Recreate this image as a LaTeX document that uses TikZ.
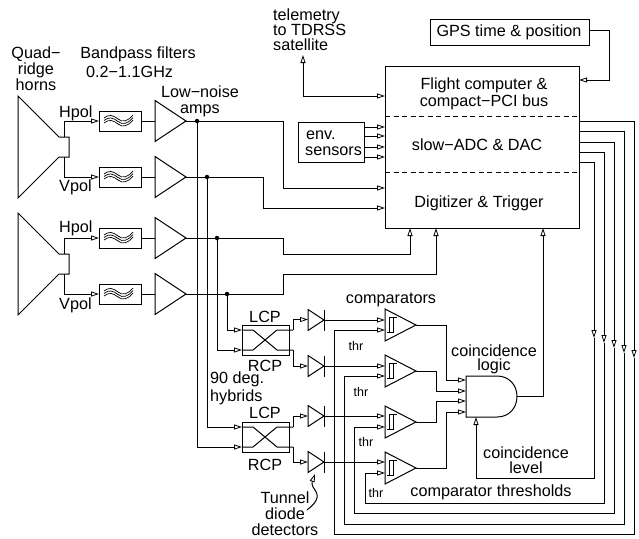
\documentclass[tikz,border=0pt]{standalone}
\usepackage{fontspec}
\setmainfont{Liberation Sans}
\usetikzlibrary{arrows.meta}
\tikzset{
  x=1pt,y=-1pt,
  wire/.style={line width=1pt,line join=miter},
  arr/.style={wire,-{Triangle[length=8pt,width=5pt,fill=white,line width=0.8pt]}},
  blockbox/.style={draw,line width=1pt,fill=white,inner sep=0pt,outer sep=0pt,anchor=north west},
  lbl/.style={font=\fontsize{16.2}{16}\selectfont,align=center,inner sep=0pt},
  thrlbl/.style={font=\fontsize{12.5}{13}\selectfont,inner sep=0pt},
  dot/.style={circle,fill=black,inner sep=0pt,minimum size=4.5pt},
  thin wire/.style={line width=0.7pt},
}
\newcommand{\filterbox}[2]{%
  \node[blockbox,minimum width=42pt,minimum height=20pt] (#1) at (99,#2-10) {};
  \foreach \d in {-1,1.5,4}{
    \draw[thin wire] (104,#2+\d-2) .. controls (109,#2+\d-6) and (113,#2+\d-5) .. (118,#2+\d-1) .. controls (123,#2+\d+3) and (128,#2+\d+1) .. (133,#2+\d-5);
  }
}
\newcommand{\ampl}[2]{%
  \coordinate (#1) at (186,#2);
  \draw[wire] (155,#2-20.5) -- (186,#2) -- (155,#2+20.5) -- cycle;
}
\newcommand{\horn}[2]{%
  \draw[wire] (18,#2) -- (59,#2+41) -- (69,#2+41) -- (69,#2+61) -- (59,#2+61) -- (18,#2+102) -- cycle;
}
\newcommand{\detector}[2]{%
  \coordinate (#1) at (324,#2);
  \draw[wire] (308,#2-10.5) -- (324,#2) -- (308,#2+10.5) -- cycle;
  \draw[wire] (324,#2-10.5) -- (324,#2+10.5);
}
\newcommand{\compar}[2]{%
  \coordinate (#1) at (416,#2);
  \draw[wire] (385,#2-16) -- (416,#2) -- (385,#2+16) -- cycle;
  \draw[thin wire] (387,#2+7) -- (393,#2+7) -- (393,#2-8) -- (397,#2-8);
  \draw[thin wire] (393,#2-8) -- (389,#2-8) -- (389,#2+7);
}
\begin{document}
\begin{tikzpicture}
\useasboundingbox (0,0) rectangle (639,538);
% main blocks
\node[blockbox,minimum width=194pt,minimum height=162pt] (main) at (385,66) {};
\draw[wire,dash pattern=on 5pt off 3.5pt] (main.west |- 0,116) -- (main.east |- 0,116);
\draw[wire,dash pattern=on 5pt off 3.5pt] (main.west |- 0,172) -- (main.east |- 0,172);
\node[blockbox,minimum width=159pt,minimum height=26pt] (gps) at (430,19) {};
\node[blockbox,minimum width=66pt,minimum height=40pt] (env) at (298,122) {};
\coordinate (telem) at (303,55);
\draw[arr] (gps.east |- 0,30) -- (609,30) -- (609,80) -- (main.east |- 0,80);
\draw[arr] (303,96) -- (telem);
\draw[arr] (303,96) -- (main.west |- 0,96);
\foreach \y in {127,136,147,157} \draw[arr] (env.east |- 0,\y) -- (main.west |- 0,\y);
% horns
\horn{h1}{96}
\horn{h2}{213}
% receive chains
\foreach \n/\y in {a/121,b/177,c/238,d/294}{
  \filterbox{f\n}{\y}
  \ampl{amp\n}{\y}
  \draw[wire] (f\n.east) -- (155,\y);
}
\draw[arr] (64,137) -- (64,121) -- (fa.west);
\draw[arr] (64,157) -- (64,177) -- (fb.west);
\draw[arr] (64,254) -- (64,238) -- (fc.west);
\draw[arr] (64,274) -- (64,294) -- (fd.west);
% amp outputs to digitizer
\draw[arr] (ampa) -- (283,121) -- (283,188) -- (main.west |- 0,188);
\draw[arr] (ampb) -- (263,177) -- (263,208) -- (main.west |- 0,208);
\draw[arr] (ampc) -- (283,238) -- (283,254) -- (410,254) -- (main.south -| 410,0);
\draw[arr] (ampd) -- (283,294) -- (283,274) -- (436,274) -- (main.south -| 436,0);
% hybrids
\node[blockbox,minimum width=47pt,minimum height=30pt] (hy1) at (242,325) {};
\node[blockbox,minimum width=47pt,minimum height=30pt] (hy2) at (242,422) {};
% taps to hybrids
\node[dot] (ja) at (197,121) {};
\node[dot] (jb) at (207,177) {};
\node[dot] (jc) at (217,238) {};
\node[dot] (jd) at (227,294) {};
\draw[arr] (ja) -- (197,447) -- (hy2.west |- 0,447);
\draw[arr] (jb) -- (207,427) -- (hy2.west |- 0,427);
\draw[arr] (jc) -- (217,350) -- (hy1.west |- 0,350);
\draw[arr] (jd) -- (227,330) -- (hy1.west |- 0,330);
\draw[wire] (242,330) -- (253,330) -- (277,350) -- (293,350);
\draw[wire] (242,350) -- (253,350) -- (277,330) -- (293,330);
\draw[wire] (242,427) -- (253,427) -- (277,447) -- (293,447);
\draw[wire] (242,447) -- (253,447) -- (277,427) -- (293,427);
\draw[arr] (293,330) -- (293,319.5) -- (308,319.5);
\draw[arr] (293,350) -- (293,366) -- (308,366);
\draw[arr] (293,427) -- (293,416) -- (308,416);
\draw[arr] (293,447) -- (293,462) -- (308,462);
% detectors
\detector{da}{320}
\detector{db}{366}
\detector{dc}{416}
\detector{dd}{462}
% comparators
\compar{ca}{325}
\compar{cb}{371}
\compar{cc}{422}
\compar{cd}{468}
\draw[arr] (da) -- (385,320);
\draw[arr] (db) -- (385,366);
\draw[arr] (dc) -- (385,416);
\draw[arr] (dd) -- (385,462);
% AND gate
\draw[wire,fill=white] (466,376) -- (497,376) .. controls (509,376) and (517,385) .. (517,396.5) .. controls (517,408) and (509,417) .. (497,417) -- (466,417) -- cycle;
\coordinate (andout) at (517,396.5);
\draw[arr] (ca) -- (446,325) -- (446,380) -- (466,380);
\draw[arr] (cb) -- (436,371) -- (436,391) -- (466,391);
\draw[arr] (cc) -- (436,422) -- (436,401) -- (466,401);
\draw[arr] (cd) -- (446,468) -- (446,412) -- (466,412);
\draw[arr] (andout) -- (543,396.5) -- (main.south -| 543,0);
% slow DAC outputs
\draw[wire] (594,338) -- (594,478) -- (476,478);
\draw[arr] (476,478) -- (476,417);
\draw[wire] (604,343) -- (604,503) -- (365,503) -- (365,473);
\draw[arr] (365,473) -- (385,473);
\draw[wire] (614,348) -- (614,513) -- (354,513) -- (354,427);
\draw[arr] (354,427) -- (385,427);
\draw[wire] (624,353) -- (624,524) -- (344,524) -- (344,376);
\draw[arr] (344,376) -- (385,376);
\draw[wire] (634,358) -- (634,534) -- (334,534) -- (334,330);
\draw[arr] (334,330) -- (385,330);
\draw[arr] (main.east |- 0,162) -- (594,162) -- (594,338);
\draw[arr] (main.east |- 0,152) -- (604,152) -- (604,343);
\draw[arr] (main.east |- 0,142) -- (614,142) -- (614,348);
\draw[arr] (main.east |- 0,131) -- (624,131) -- (624,353);
\draw[arr] (main.east |- 0,121) -- (634,121) -- (634,358);
% tunnel pointer
\draw[arr] (307,510) .. controls (316,503) and (320,497) .. (315,490) .. controls (311,485) and (312,482) .. (315,474);
% labels
\node[lbl] at (36,69) {Quad−\\ridge\\horns};
\node[lbl] at (138,54) {Bandpass filters};
\node[lbl,anchor=west] at (86,72) {0.2−1.1GHz};
\node[lbl] at (200,101) {Low−noise\\amps};
\node[lbl,anchor=west] at (59,113) {Hpol};
\node[lbl,anchor=west] at (59,187) {Vpol};
\node[lbl,anchor=west] at (59,228) {Hpol};
\node[lbl,anchor=west] at (59,305) {Vpol};
\node[lbl,font=\fontsize{16.2}{15}\selectfont,anchor=west,align=left] at (273,30) {telemetry\\to TDRSS\\satellite};
\node[lbl] at (509,32) {GPS time \& position};
\node[lbl,font=\fontsize{16.2}{17}\selectfont] at (484,93.5) {Flight computer \&\\compact−PCI bus};
\node[lbl] at (477,145) {slow−ADC \& DAC};
\node[lbl] at (479,203) {Digitizer \& Trigger};
\node[lbl,align=left,anchor=west] at (305,143) {\hspace{1pt}env.\\sensors};
\node[lbl] at (265,317) {LCP};
\node[lbl] at (265,366) {RCP};
\node[lbl] at (265,413) {LCP};
\node[lbl] at (265,465) {RCP};
\node[lbl,font=\fontsize{16.2}{18}\selectfont,align=left,anchor=west] at (210,388) {90 deg.\\hybrids};
\node[lbl] at (285,514) {Tunnel\hspace{16pt}\\diode\\detectors};
\node[lbl] at (391,300) {comparators};
\node[lbl,font=\fontsize{16.2}{14}\selectfont] at (494,359) {coincidence\\logic};
\node[lbl,font=\fontsize{16.2}{15}\selectfont] at (526,460) {coincidence\\level\hspace{26pt}};
\node[lbl] at (491,492) {comparator thresholds};
\node[thrlbl] at (356,346) {thr};
\node[thrlbl] at (361,392) {thr};
\node[thrlbl] at (366,442) {thr};
\node[thrlbl] at (376,493) {thr};
\end{tikzpicture}
\end{document}
